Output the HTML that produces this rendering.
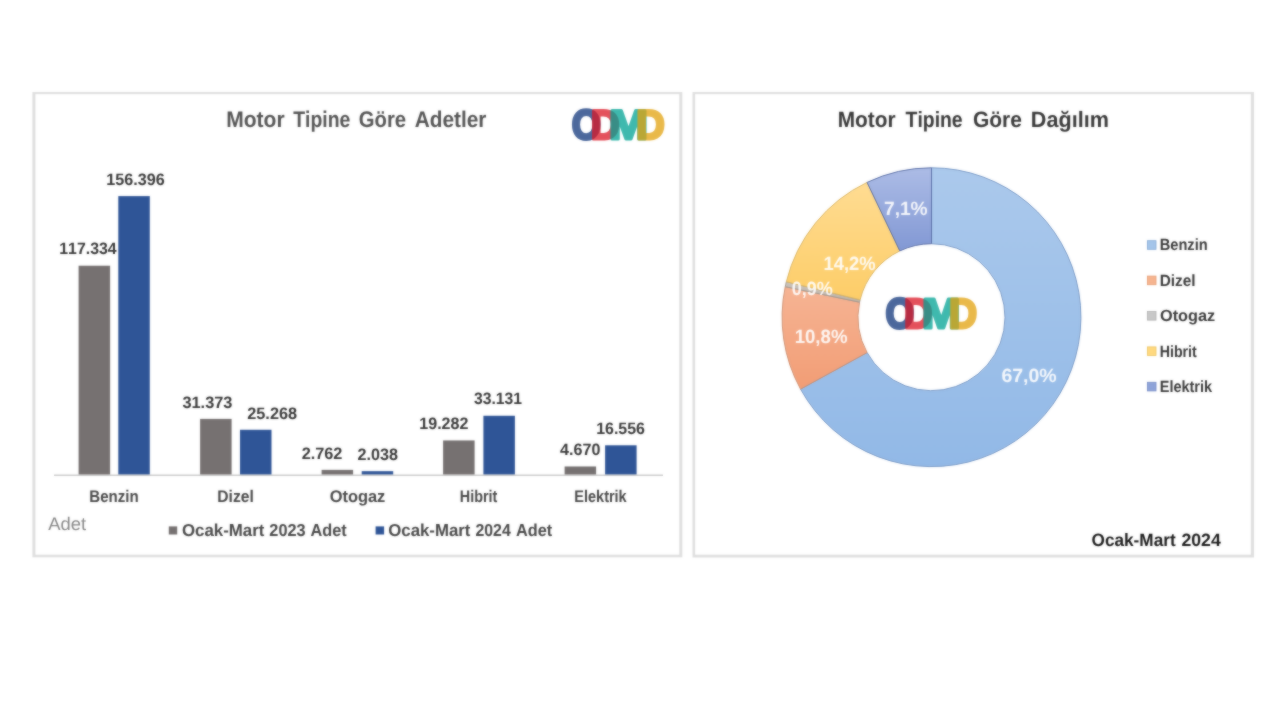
<!DOCTYPE html>
<html lang="tr"><head><meta charset="utf-8"><title>Motor Tipine Göre Adetler</title>
<style>
html,body{margin:0;padding:0;background:#fff;width:1280px;height:720px;overflow:hidden}
svg{display:block}
text{font-family:"Liberation Sans",sans-serif;font-kerning:none;white-space:pre;text-rendering:geometricPrecision}
</style></head><body>
<svg width="1280" height="720" viewBox="0 0 1280 720">
<defs><filter id="soft" x="0" y="0" width="1280" height="720" filterUnits="userSpaceOnUse" color-interpolation-filters="sRGB"><feGaussianBlur in="SourceGraphic" stdDeviation="0.8" result="b"/><feComposite in="SourceGraphic" in2="b" operator="arithmetic" k1="0" k2="0.45" k3="0.55" k4="0"/></filter></defs>
<g filter="url(#soft)">
<rect width="1280" height="720" fill="#fff"/>
<rect x="32.40" y="92.00" width="649.90" height="465.30" fill="#dfdfdf"/>
<rect x="35.40" y="94.10" width="643.90" height="460.60" fill="#ffffff"/>
<rect x="692.50" y="92.00" width="561.50" height="465.50" fill="#dfdfdf"/>
<rect x="695.10" y="94.10" width="555.80" height="460.60" fill="#ffffff"/>
<text transform="translate(226.19,127.40) scale(0.9296,1)" font-size="22.67" font-weight="700" fill="#545454">Motor</text>
<text transform="translate(293.28,127.40) scale(0.8550,1)" font-size="22.67" font-weight="700" fill="#545454">Tipine</text>
<text transform="translate(358.77,127.40) scale(0.8942,1)" font-size="22.67" font-weight="700" fill="#545454">Göre</text>
<text transform="translate(414.78,127.40) scale(0.9182,1)" font-size="22.67" font-weight="700" fill="#545454">Adetler</text>
<rect x="78.60" y="265.71" width="31.50" height="209.09" fill="#767171"/>
<rect x="118.30" y="196.10" width="31.50" height="278.70" fill="#2F5597"/>
<rect x="200.10" y="418.89" width="31.50" height="55.91" fill="#767171"/>
<rect x="240.00" y="429.77" width="31.50" height="45.03" fill="#2F5597"/>
<rect x="321.60" y="469.88" width="31.50" height="4.92" fill="#767171"/>
<rect x="361.70" y="471.17" width="31.50" height="3.63" fill="#2F5597"/>
<rect x="443.10" y="440.44" width="31.50" height="34.36" fill="#767171"/>
<rect x="483.40" y="415.76" width="31.50" height="59.04" fill="#2F5597"/>
<rect x="564.60" y="466.48" width="31.50" height="8.32" fill="#767171"/>
<rect x="605.10" y="445.30" width="31.50" height="29.50" fill="#2F5597"/>
<line x1="54" y1="475.2" x2="663" y2="475.2" stroke="#cccccc" stroke-width="1.5"/>
<text transform="translate(59.30,254.20) scale(0.9590,1)" font-size="16.53" font-weight="700" fill="#383838">117.334</text>
<text transform="translate(106.28,185.00) scale(0.9777,1)" font-size="16.53" font-weight="700" fill="#383838">156.396</text>
<text transform="translate(182.42,407.70) scale(0.9906,1)" font-size="16.53" font-weight="700" fill="#383838">31.373</text>
<text transform="translate(247.23,418.75) scale(0.9866,1)" font-size="16.53" font-weight="700" fill="#383838">25.268</text>
<text transform="translate(301.63,458.50) scale(0.9871,1)" font-size="16.53" font-weight="700" fill="#383838">2.762</text>
<text transform="translate(357.49,460.25) scale(0.9783,1)" font-size="16.53" font-weight="700" fill="#383838">2.038</text>
<text transform="translate(419.29,429.10) scale(0.9725,1)" font-size="16.53" font-weight="700" fill="#383838">19.282</text>
<text transform="translate(473.94,404.10) scale(0.9516,1)" font-size="16.53" font-weight="700" fill="#383838">33.131</text>
<text transform="translate(560.06,455.00) scale(0.9746,1)" font-size="16.53" font-weight="700" fill="#383838">4.670</text>
<text transform="translate(596.19,433.75) scale(0.9661,1)" font-size="16.53" font-weight="700" fill="#383838">16.556</text>
<text transform="translate(89.29,501.60) scale(0.8928,1)" font-size="16.86" font-weight="700" fill="#484848">Benzin</text>
<text transform="translate(217.25,501.60) scale(0.9290,1)" font-size="16.86" font-weight="700" fill="#484848">Dizel</text>
<text transform="translate(329.63,501.60) scale(0.9743,1)" font-size="16.86" font-weight="700" fill="#484848">Otogaz</text>
<text transform="translate(459.84,501.60) scale(0.8527,1)" font-size="16.86" font-weight="700" fill="#484848">Hibrit</text>
<text transform="translate(574.33,501.60) scale(0.8594,1)" font-size="16.86" font-weight="700" fill="#484848">Elektrik</text>
<text transform="translate(48.16,530.00) scale(1.0133,1)" font-size="18.17" font-weight="400" fill="#858585">Adet</text>
<rect x="168.80" y="526.40" width="8.40" height="8.10" fill="#767171"/>
<text transform="translate(181.91,535.60) scale(0.9753,1)" font-size="17.30" font-weight="700" fill="#484848">Ocak-Mart</text>
<text transform="translate(269.34,535.60) scale(0.9422,1)" font-size="17.30" font-weight="700" fill="#484848">2023</text>
<text transform="translate(310.39,535.60) scale(0.9446,1)" font-size="17.30" font-weight="700" fill="#484848">Adet</text>
<rect x="375.60" y="526.40" width="8.50" height="8.10" fill="#2F5597"/>
<text transform="translate(388.21,535.60) scale(0.9729,1)" font-size="17.30" font-weight="700" fill="#484848">Ocak-Mart</text>
<text transform="translate(475.45,535.60) scale(0.9183,1)" font-size="17.30" font-weight="700" fill="#484848">2024</text>
<text transform="translate(516.09,535.60) scale(0.9420,1)" font-size="17.30" font-weight="700" fill="#484848">Adet</text>
<text transform="translate(837.66,127.20) scale(0.9369,1)" font-size="22.24" font-weight="700" fill="#383838">Motor</text>
<text transform="translate(905.58,127.20) scale(0.8718,1)" font-size="22.24" font-weight="700" fill="#383838">Tipine</text>
<text transform="translate(972.94,127.20) scale(0.9436,1)" font-size="22.24" font-weight="700" fill="#383838">Göre</text>
<text transform="translate(1030.86,127.20) scale(0.9709,1)" font-size="22.24" font-weight="700" fill="#383838">Dağılım</text>
<defs>
<linearGradient id="benz" x1="0" y1="0" x2="0" y2="1"><stop offset="0" stop-color="#abc9ec"/><stop offset="1" stop-color="#92b9e7"/></linearGradient>
<linearGradient id="diz" x1="0" y1="0" x2="0" y2="1"><stop offset="0" stop-color="#f6b494"/><stop offset="1" stop-color="#f29d75"/></linearGradient>
<linearGradient id="oto" x1="0" y1="0" x2="0" y2="1"><stop offset="0" stop-color="#cbc4bc"/><stop offset="1" stop-color="#bcb3aa"/></linearGradient>
<linearGradient id="hib" x1="0" y1="0" x2="0" y2="1"><stop offset="0" stop-color="#ffdc92"/><stop offset="1" stop-color="#fdcd68"/></linearGradient>
<linearGradient id="ele" x1="0" y1="0" x2="0" y2="1"><stop offset="0" stop-color="#acbce6"/><stop offset="1" stop-color="#8298d4"/></linearGradient>
</defs>
<path d="M931.50,167.80 A149.4,149.4 0 1 1 800.53,389.08 L867.07,352.56 A73.5,73.5 0 1 0 931.50,243.70 Z" fill="url(#benz)" stroke="#7698c6" stroke-width="1" stroke-linejoin="round"/>
<path d="M800.53,389.08 A149.4,149.4 0 0 1 785.25,286.68 L859.55,302.19 A73.5,73.5 0 0 0 867.07,352.56 Z" fill="url(#diz)" stroke="#cf9070" stroke-width="1" stroke-linejoin="round"/>
<path d="M785.25,286.68 A149.4,149.4 0 0 1 786.37,281.73 L860.10,299.75 A73.5,73.5 0 0 0 859.55,302.19 Z" fill="url(#oto)" stroke="#a39a90" stroke-width="1" stroke-linejoin="round"/>
<path d="M786.37,281.73 A149.4,149.4 0 0 1 867.09,182.40 L899.81,250.88 A73.5,73.5 0 0 0 860.10,299.75 Z" fill="url(#hib)" stroke="#dcb662" stroke-width="1" stroke-linejoin="round"/>
<path d="M867.09,182.40 A149.4,149.4 0 0 1 931.50,167.80 L931.50,243.70 A73.5,73.5 0 0 0 899.81,250.88 Z" fill="url(#ele)" stroke="#596ea6" stroke-width="1" stroke-linejoin="round"/>
<text transform="translate(883.98,215.00) scale(0.9988,1)" font-size="19.21" font-weight="700" fill="#ffffff" opacity="0.9">7,1%</text>
<text transform="translate(823.54,270.00) scale(0.9573,1)" font-size="19.21" font-weight="700" fill="#ffffff" opacity="0.9">14,2%</text>
<text transform="translate(791.69,295.00) scale(0.9408,1)" font-size="19.21" font-weight="700" fill="#ffffff" opacity="0.9">0,9%</text>
<text transform="translate(794.63,342.50) scale(0.9706,1)" font-size="19.21" font-weight="700" fill="#ffffff" opacity="0.9">10,8%</text>
<text transform="translate(1001.39,381.70) scale(1.0158,1)" font-size="19.21" font-weight="700" fill="#ffffff" opacity="0.9">67,0%</text>
<rect x="1147.4" y="240.70" width="8.6" height="8.6" fill="#a4c5ea" stroke="#7fa6d3" stroke-width="0.8"/>
<text transform="translate(1159.72,250.30) scale(0.8993,1)" font-size="16.28" font-weight="700" fill="#383838">Benzin</text>
<rect x="1147.4" y="276.10" width="8.6" height="8.6" fill="#f6b48f" stroke="#e59a6e" stroke-width="0.8"/>
<text transform="translate(1159.67,285.70) scale(0.9454,1)" font-size="16.28" font-weight="700" fill="#383838">Dizel</text>
<rect x="1147.4" y="311.50" width="8.6" height="8.6" fill="#c8c8c8" stroke="#adadad" stroke-width="0.8"/>
<text transform="translate(1160.03,321.10) scale(0.9998,1)" font-size="16.28" font-weight="700" fill="#383838">Otogaz</text>
<rect x="1147.4" y="346.90" width="8.6" height="8.6" fill="#ffd97f" stroke="#ecc25d" stroke-width="0.8"/>
<text transform="translate(1159.75,356.50) scale(0.8711,1)" font-size="16.28" font-weight="700" fill="#383838">Hibrit</text>
<rect x="1147.4" y="382.30" width="8.6" height="8.6" fill="#8ea3d9" stroke="#6f86c2" stroke-width="0.8"/>
<text transform="translate(1159.73,391.90) scale(0.8901,1)" font-size="16.28" font-weight="700" fill="#383838">Elektrik</text>
<text transform="translate(1091.59,546.40) scale(0.9620,1)" font-size="17.88" font-weight="700" fill="#1a1a1a">Ocak-Mart</text>
<text transform="translate(1181.39,546.40) scale(0.9909,1)" font-size="17.88" font-weight="700" fill="#1a1a1a">2024</text>
<g stroke-linejoin="round">
<text transform="translate(571.87,139.28) scale(0.8950,1)" font-size="41.81" font-weight="700" fill="#4c689c" stroke="#4c689c" stroke-width="3.0" vector-effect="non-scaling-stroke" opacity="1">O</text>
<text transform="translate(590.84,139.20) scale(0.9571,1)" font-size="41.57" font-weight="700" fill="#db1826" stroke="#db1826" stroke-width="3.0" vector-effect="non-scaling-stroke" opacity="0.75">D</text>
<text transform="translate(609.07,139.20) scale(1.1250,1)" font-size="41.57" font-weight="700" fill="#00a294" stroke="#00a294" stroke-width="3.0" vector-effect="non-scaling-stroke" opacity="0.75">M</text>
<text transform="translate(636.36,139.20) scale(0.9492,1)" font-size="41.57" font-weight="700" fill="#e2a20e" stroke="#e2a20e" stroke-width="3.0" vector-effect="non-scaling-stroke" opacity="0.75">D</text>
</g>
<g stroke-linejoin="round">
<text transform="translate(885.39,328.47) scale(0.8675,1)" font-size="42.51" font-weight="700" fill="#4c689c" stroke="#4c689c" stroke-width="3.0" vector-effect="non-scaling-stroke" opacity="1">O</text>
<text transform="translate(904.12,328.40) scale(0.9270,1)" font-size="42.30" font-weight="700" fill="#db1826" stroke="#db1826" stroke-width="3.0" vector-effect="non-scaling-stroke" opacity="0.75">D</text>
<text transform="translate(922.11,328.40) scale(1.0901,1)" font-size="42.30" font-weight="700" fill="#00a294" stroke="#00a294" stroke-width="3.0" vector-effect="non-scaling-stroke" opacity="0.75">M</text>
<text transform="translate(949.05,328.40) scale(0.9194,1)" font-size="42.30" font-weight="700" fill="#e2a20e" stroke="#e2a20e" stroke-width="3.0" vector-effect="non-scaling-stroke" opacity="0.75">D</text>
</g>
</g>
</svg>
</body></html>
